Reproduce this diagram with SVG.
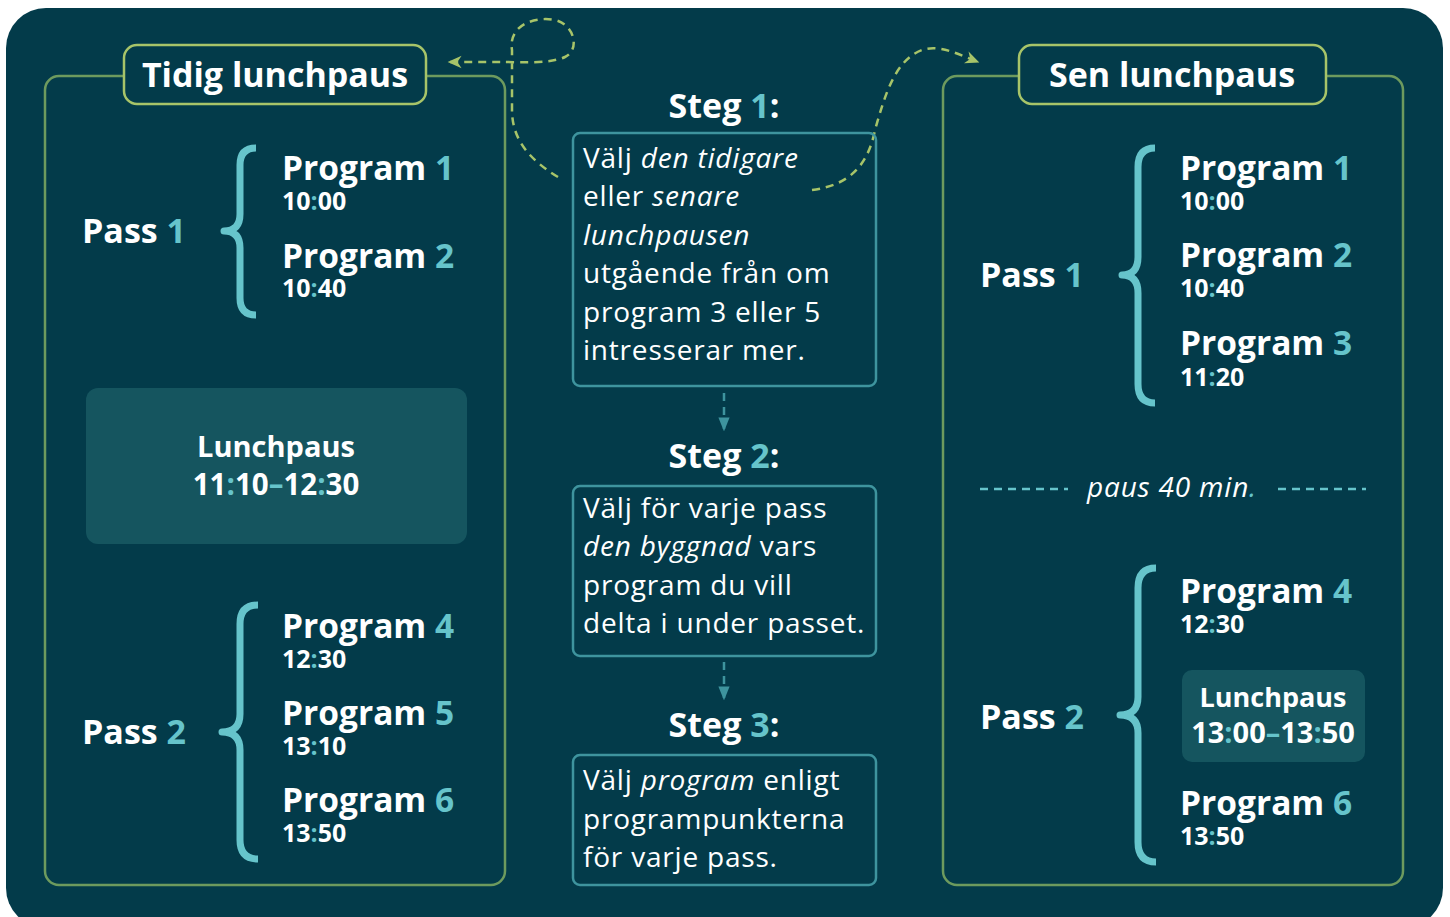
<svg xmlns="http://www.w3.org/2000/svg" width="1450" height="917" viewBox="0 0 1450 917">
<style>
.t{fill:#66c4cb}
.title{font-family:"Open Sans","Liberation Sans",sans-serif;font-weight:700;font-size:34px;fill:#fff;text-anchor:middle}
.steg{font-family:"Open Sans","Liberation Sans",sans-serif;font-weight:700;font-size:34px;fill:#fff;text-anchor:middle}
.body{font-family:"Open Sans","Liberation Sans",sans-serif;font-weight:400;font-size:28px;letter-spacing:0.8px;fill:#fff}
.pass{font-family:"Open Sans","Liberation Sans",sans-serif;font-weight:700;font-size:34px;fill:#fff}
.prog{font-family:"Open Sans","Liberation Sans",sans-serif;font-weight:700;font-size:33.5px;fill:#fff}
.time{font-size:25px}
.lunch{font-family:"Open Sans","Liberation Sans",sans-serif;font-weight:700;fill:#fff;text-anchor:middle}
.panel{fill:none;stroke:#6d9a5e;stroke-width:2.5}
.tbox{fill:#033b4a;stroke:#a7c469;stroke-width:2.5}
.sbox{fill:none;stroke:#3e949e;stroke-width:2.5}
.brace{fill:none;stroke:#66c4cb;stroke-width:7;stroke-linecap:butt;stroke-linejoin:round}
.lfill{fill:#15555f}
.gdash{fill:none;stroke:#a7c469;stroke-width:2.5;stroke-dasharray:8 6}
.sdash{fill:none;stroke:#3e949e;stroke-width:2.5;stroke-dasharray:8 6}
.pdash{stroke:#66c4cb;stroke-width:2.5;stroke-dasharray:8 6}
</style>
<defs>
<marker id="ga" viewBox="0 0 10 10" refX="9" refY="5" markerWidth="16" markerHeight="14" orient="auto" markerUnits="userSpaceOnUse">
<path d="M0,0.5 L10,5 L0,9.5 L3,5 Z" fill="#a7c469"/>
</marker>
<marker id="ta" viewBox="0 0 10 10" refX="9" refY="5" markerWidth="14" markerHeight="14" orient="auto" markerUnits="userSpaceOnUse">
<path d="M0,1 L10,5 L0,9 Z" fill="#3e949e"/>
</marker>
</defs>
<rect x="0" y="0" width="1450" height="917" fill="#ffffff"/>
<rect x="6" y="8" width="1437" height="920" rx="40" fill="#033b4a"/>

<g id="connectors">
<path class="gdash" d="M558,177 C530,160 512,140 512,110 L512,50 C508,25 535,16 555,20 C575,25 580,50 565,57 C550,64 520,62 500,62 L449,62" marker-end="url(#ga)"/>
<path class="gdash" d="M812,190 C850,185 868,165 875,130 C885,95 895,60 922,50 C940,44 960,55 978,62" marker-end="url(#ga)"/>
<line class="sdash" x1="724" y1="393" x2="724" y2="430" marker-end="url(#ta)"/>
<line class="sdash" x1="724" y1="662" x2="724" y2="699" marker-end="url(#ta)"/>
</g>

<g id="panel-tidig">
<rect class="panel" x="45" y="76" width="460" height="809" rx="14"/>
<rect class="tbox" x="124" y="45" width="302" height="59" rx="13"/>
<text class="title" x="275" y="87">Tidig lunchpaus</text>
</g>

<g id="tidig-pass1">
<text class="pass" x="82" y="243">Pass <tspan class="t">1</tspan></text>
<path class="brace" d="M256,148 Q240,148 240,165 L240,214 Q240,231 224,231 Q240,231 240,248 L240,298 Q240,315 256,315"/>
<text class="prog" x="282" y="180">Program <tspan class="t">1</tspan><tspan class="time" x="282" y="210">10<tspan class="t">:</tspan>00</tspan><tspan x="282" y="268">Program </tspan><tspan class="t">2</tspan><tspan class="time" x="282" y="297">10<tspan class="t">:</tspan>40</tspan></text>
</g>

<g id="tidig-lunch">
<rect class="lfill" x="86" y="388" width="381" height="156" rx="12"/>
<text class="lunch" x="276" y="457" font-size="29">Lunchpaus<tspan x="276" y="495" font-size="29.5">11<tspan class="t">:</tspan>10<tspan class="t">–</tspan>12<tspan class="t">:</tspan>30</tspan></text>
</g>

<g id="tidig-pass2">
<text class="pass" x="82" y="744">Pass <tspan class="t">2</tspan></text>
<path class="brace" d="M258,605 Q240,605 240,624 L240,714 Q240,732 222,732 Q240,732 240,750 L240,840 Q240,859 258,859"/>
<text class="prog" x="282" y="638">Program <tspan class="t">4</tspan><tspan class="time" x="282" y="668">12<tspan class="t">:</tspan>30</tspan><tspan x="282" y="725">Program </tspan><tspan class="t">5</tspan><tspan class="time" x="282" y="755">13<tspan class="t">:</tspan>10</tspan><tspan x="282" y="812">Program </tspan><tspan class="t">6</tspan><tspan class="time" x="282" y="842">13<tspan class="t">:</tspan>50</tspan></text>
</g>

<g id="steg1">
<text class="steg" x="724" y="118">Steg <tspan class="t">1</tspan>:</text>
<rect class="sbox" x="573" y="133" width="303" height="253" rx="7"/>
<text class="body" x="583" y="168">Välj <tspan font-style="italic">den tidigare</tspan><tspan x="583" y="206">eller </tspan><tspan font-style="italic">senare</tspan><tspan x="583" y="245" font-style="italic">lunchpausen</tspan><tspan x="583" y="283">utgående från om</tspan><tspan x="583" y="322">program 3 eller 5</tspan><tspan x="583" y="360">intresserar mer.</tspan></text>
</g>

<g id="steg2">
<text class="steg" x="724" y="468">Steg <tspan class="t">2</tspan>:</text>
<rect class="sbox" x="573" y="486" width="303" height="170" rx="7"/>
<text class="body" x="583" y="518">Välj för varje pass<tspan x="583" y="556" font-style="italic">den byggnad</tspan> vars<tspan x="583" y="595">program du vill</tspan><tspan x="583" y="633">delta i under passet.</tspan></text>
</g>

<g id="steg3">
<text class="steg" x="724" y="737">Steg <tspan class="t">3</tspan>:</text>
<rect class="sbox" x="573" y="755" width="303" height="130" rx="7"/>
<text class="body" x="583" y="790">Välj <tspan font-style="italic">program</tspan> enligt<tspan x="583" y="829">programpunkterna</tspan><tspan x="583" y="867">för varje pass.</tspan></text>
</g>

<g id="panel-sen">
<rect class="panel" x="943" y="76" width="460" height="809" rx="14"/>
<rect class="tbox" x="1019" y="45" width="307" height="59" rx="13"/>
<text class="title" x="1172" y="87">Sen lunchpaus</text>
</g>

<g id="sen-pass1">
<text class="pass" x="980" y="287">Pass <tspan class="t">1</tspan></text>
<path class="brace" d="M1155,148 Q1138,148 1138,167 L1138,257 Q1138,275 1122,275 Q1138,275 1138,293 L1138,384 Q1138,403 1155,403"/>
<text class="prog" x="1180" y="180">Program <tspan class="t">1</tspan><tspan class="time" x="1180" y="210">10<tspan class="t">:</tspan>00</tspan><tspan x="1180" y="267">Program </tspan><tspan class="t">2</tspan><tspan class="time" x="1180" y="297">10<tspan class="t">:</tspan>40</tspan><tspan x="1180" y="355">Program </tspan><tspan class="t">3</tspan><tspan class="time" x="1180" y="386">11<tspan class="t">:</tspan>20</tspan></text>
</g>

<g id="sen-paus">
<line class="pdash" x1="980" y1="489" x2="1068" y2="489"/>
<line class="pdash" x1="1278" y1="489" x2="1366" y2="489"/>
<text class="body" x="1172" y="497" text-anchor="middle" font-style="italic">paus 40 min<tspan class="t">.</tspan></text>
</g>

<g id="sen-pass2">
<text class="pass" x="980" y="729">Pass <tspan class="t">2</tspan></text>
<path class="brace" d="M1156,568 Q1138,568 1138,588 L1138,697 Q1138,715 1120,715 Q1138,715 1138,733 L1138,842 Q1138,862 1156,862"/>
<text class="prog" x="1180" y="603">Program <tspan class="t">4</tspan><tspan class="time" x="1180" y="633">12<tspan class="t">:</tspan>30</tspan></text>
<rect class="lfill" x="1182" y="670" width="183" height="92" rx="10"/>
<text class="lunch" x="1273" y="707" font-size="27">Lunchpaus<tspan x="1273" y="743" font-size="29">13<tspan class="t">:</tspan>00<tspan class="t">–</tspan>13<tspan class="t">:</tspan>50</tspan></text>
<text class="prog" x="1180" y="815">Program <tspan class="t">6</tspan><tspan class="time" x="1180" y="845">13<tspan class="t">:</tspan>50</tspan></text>
</g>
</svg>
